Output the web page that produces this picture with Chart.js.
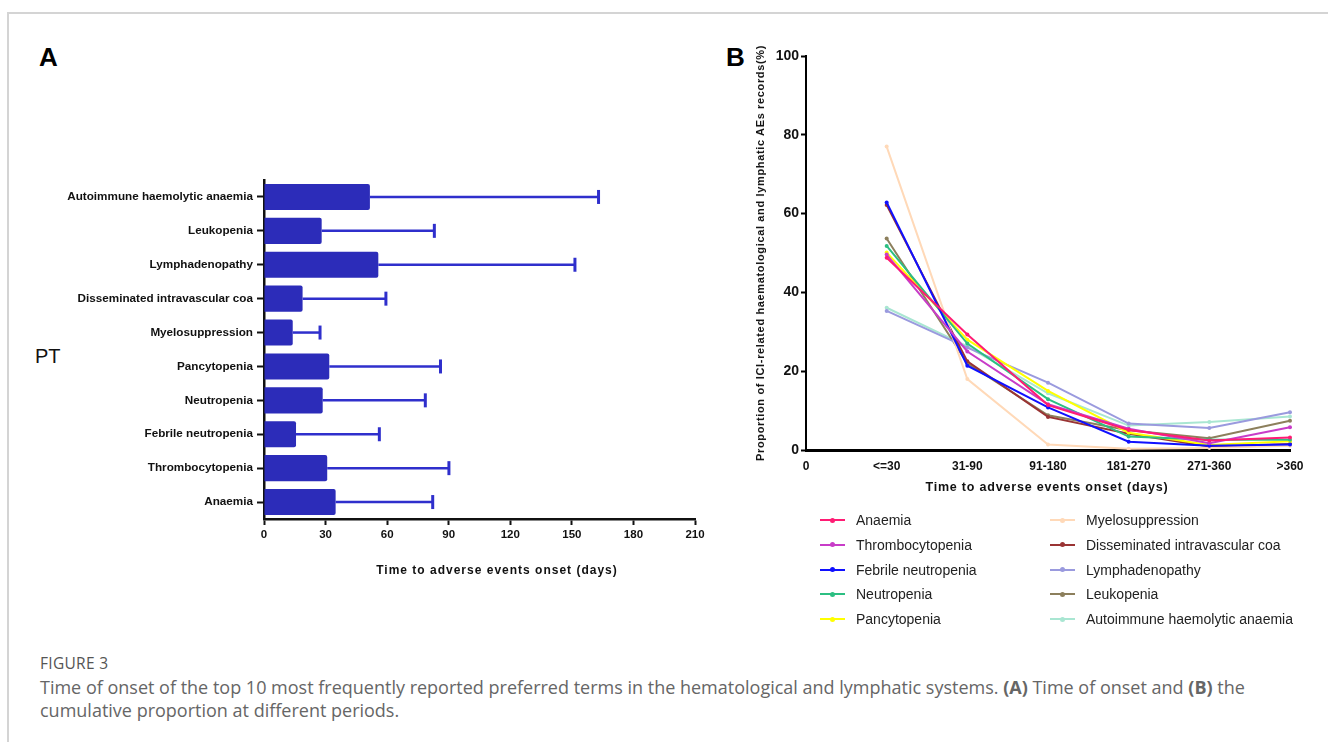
<!DOCTYPE html>
<html>
<head>
<meta charset="utf-8">
<script src="https://cdn.jsdelivr.net/npm/chart.js@4.4.1/dist/chart.umd.min.js"></script>
<style>
  body { margin: 0; background: #fff; }
  #page { position: relative; width: 1328px; height: 742px; overflow: hidden; font-family: "Liberation Sans", Arial, sans-serif; }
  #frame { position: absolute; left: 7px; top: 12px; width: 1330px; height: 740px; border-top: 2px solid #d4d4d4; border-left: 2px solid #d4d4d4; }
  canvas { position: absolute; }
  #chartA { left: 0; top: 150px; }
  #chartB { left: 700px; top: 30px; }
  .panel { position: absolute; font-weight: bold; font-size: 26px; color: #000; }
  #pt { position: absolute; left: 35px; top: 345px; font-size: 20px; color: #111; }
  .axtitle { position: absolute; font-weight: bold; color: #111; white-space: nowrap; transform: translate(-50%, -50%); }
  #legendB { position: absolute; left: 820px; top: 508px; }
  .item { position: absolute; height: 24px; line-height: 24px; font-size: 14px; color: #222; white-space: nowrap; }
  .swatch { position: absolute; left: 0; top: 11px; width: 25px; height: 2px; }
  .swatch i { position: absolute; left: 10px; top: -1.5px; width: 5px; height: 5px; border-radius: 50%; }
  .item span { position: absolute; left: 36px; top: 0; }
  #caption { position: absolute; left: 40px; top: 652px; font-family: "Open Sans", "Noto Sans", sans-serif; color: #666; }
  #caption .fig { font-size: 15.5px; color: #555; letter-spacing: 0.3px; line-height: 22px; }
  #caption .txt { font-size: 18px; line-height: 23px; margin-top: 2px; white-space: nowrap; }
</style>
</head>
<body>
<div id="page">
  <div id="frame"></div>
  <div class="panel" style="left:39px; top:42px;">A</div>
  <div class="panel" style="left:726px; top:42px;">B</div>
  <div id="pt">PT</div>
  <canvas id="chartA" width="720" height="440"></canvas>
  <canvas id="chartB" width="620" height="480"></canvas>
  <div class="axtitle" style="left:497px; top:570px; font-size:12px; letter-spacing:1px;">Time to adverse events onset (days)</div>
  <div class="axtitle" style="left:1047px; top:487px; font-size:12.5px; letter-spacing:0.8px;">Time to adverse events onset (days)</div>
  <div class="axtitle" style="left:760px; top:253px; font-size:11px; letter-spacing:0.65px; transform: translate(-50%, -50%) rotate(-90deg);">Proportion of ICI-related haematological and lymphatic AEs records(%)</div>
  <div id="legendB"></div>
  <div id="caption">
    <div class="fig">FIGURE 3</div>
    <div class="txt">Time of onset of the top 10 most frequently reported preferred terms in the hematological and lymphatic systems. <b>(A)</b> Time of onset and <b>(B)</b> the<br>cumulative proportion at different periods.</div>
  </div>
</div>
<script>
// ----- Panel A data -----
const ptLabels = [
  "Autoimmune haemolytic anaemia", "Leukopenia", "Lymphadenopathy",
  "Disseminated intravascular coa", "Myelosuppression", "Pancytopenia",
  "Neutropenia", "Febrile neutropenia", "Thrombocytopenia", "Anaemia"
];
const onsetDays = [51.6, 28.1, 55.7, 18.8, 14.0, 31.8, 28.6, 15.6, 30.8, 34.9];
const onsetUpper = [163, 83, 151.5, 59.4, 27.3, 86, 78.6, 56.2, 90.1, 82.2];

// ----- Panel B data -----
const periods = ["0", "<=30", "31-90", "91-180", "181-270", "271-360", ">360"];
const seriesNames = [
  "Anaemia", "Thrombocytopenia", "Febrile neutropenia", "Neutropenia", "Pancytopenia",
  "Myelosuppression", "Disseminated intravascular coa", "Lymphadenopathy", "Leukopenia",
  "Autoimmune haemolytic anaemia"
];
const seriesColors = [
  "#ff1c74", "#c83cc8", "#1010ff", "#2cbf82", "#ffff00",
  "#ffd9b8", "#9a3434", "#9a9ade", "#8c7f5c", "#a9e6d2"
];
const anaemia = [48.8, 29.3, 11.4, 5.1, 2.4, 3.2];
const thrombocytopenia = [49.6, 25.0, 11.6, 5.4, 1.7, 5.8];
const febrileNeutropenia = [62.8, 21.4, 10.8, 2.1, 1.1, 1.4];
const neutropenia = [51.8, 27.0, 12.9, 3.4, 2.6, 2.6];
const pancytopenia = [50.1, 28.0, 15.0, 4.4, 1.3, 2.2];
const myelosuppression = [77.0, 18.0, 1.4, 0.3, 0.5, 1.1];
const dic = [62.2, 22.5, 8.4, 4.1, 0.9, 1.5];
const lymphadenopathy = [35.3, 26.0, 17.1, 6.7, 5.6, 9.6];
const leukopenia = [53.7, 22.0, 8.8, 5.0, 3.0, 7.4];
const autoimmune = [36.1, 26.3, 14.4, 6.2, 7.1, 8.5];
const seriesValues = [
  anaemia, thrombocytopenia, febrileNeutropenia, neutropenia, pancytopenia,
  myelosuppression, dic, lymphadenopathy, leukopenia, autoimmune
];

const FONT = "'Liberation Sans', Arial, sans-serif";
Chart.defaults.font.family = FONT;
Chart.defaults.color = "#111";

// error bars to the right of each bar (upper only)
const errorBars = {
  id: "errorBars",
  afterDatasetsDraw(chart) {
    const meta = chart.getDatasetMeta(0);
    const xs = chart.scales.x;
    const c = chart.ctx;
    c.save();
    c.strokeStyle = "#2f2fcc";
    meta.data.forEach((bar, i) => {
      const xe = xs.getPixelForValue(onsetUpper[i]);
      c.lineWidth = 2.5;
      c.beginPath();
      c.moveTo(bar.x, bar.y);
      c.lineTo(xe, bar.y);
      c.stroke();
      c.lineWidth = 3;
      c.beginPath();
      c.moveTo(xe, bar.y - 7);
      c.lineTo(xe, bar.y + 7);
      c.stroke();
    });
    c.restore();
  }
};

new Chart(document.getElementById("chartA"), {
  type: "bar",
  data: {
    labels: ptLabels,
    datasets: [{
      data: onsetDays,
      backgroundColor: "#2c2cb9",
      borderRadius: 2,
      borderSkipped: "start",
      barPercentage: 0.77,
      categoryPercentage: 1
    }]
  },
  plugins: [errorBars],
  options: {
    indexAxis: "y",
    responsive: false,
    devicePixelRatio: 1,
    animation: false,
    layout: { padding: { top: 30, right: 25, left: 0, bottom: 0 } },
    plugins: { legend: { display: false }, tooltip: { enabled: false } },
    scales: {
      x: {
        type: "linear",
        min: 0,
        max: 210,
        ticks: { stepSize: 30, padding: 3, color: "#111", font: { size: 11.5, weight: "bold" } },
        grid: { drawOnChartArea: false, tickLength: 6, tickWidth: 2, tickColor: "#111" },
        border: { color: "#111", width: 2.5 },
        afterFit: s => { s.height = 71; }
      },
      y: {
        ticks: { padding: 4, color: "#111", font: { size: 11.7, weight: "bold" } },
        grid: { drawOnChartArea: false, tickLength: 7, tickWidth: 2, tickColor: "#111", offset: false },
        border: { color: "#111", width: 2.5 },
        afterFit: s => { s.width = 264; }
      }
    }
  }
});

new Chart(document.getElementById("chartB"), {
  type: "line",
  data: {
    labels: periods,
    datasets: seriesNames.map((name, i) => ({
      label: name,
      data: [null, ...seriesValues[i]],
      borderColor: seriesColors[i],
      backgroundColor: seriesColors[i],
      borderWidth: 2,
      pointRadius: 2,
      pointBorderWidth: 0,
      tension: 0
    }))
  },
  options: {
    responsive: false,
    devicePixelRatio: 1,
    animation: false,
    layout: { padding: { top: 26, right: 30, left: 0, bottom: 0 } },
    plugins: { legend: { display: false }, tooltip: { enabled: false } },
    scales: {
      x: {
        type: "category",
        offset: false,
        ticks: { padding: 9, color: "#111", font: { size: 12, weight: "bold" }, autoSkip: false, maxRotation: 0 },
        grid: { drawOnChartArea: false, drawTicks: false },
        border: { color: "#000", width: 3 },
        afterFit: s => { s.height = 60; }
      },
      y: {
        min: 0,
        max: 100,
        ticks: { stepSize: 20, padding: 2, color: "#111", font: { size: 14, weight: "bold" } },
        grid: { drawOnChartArea: false, tickLength: 5, tickWidth: 2, tickColor: "#000" },
        border: { color: "#000", width: 2 },
        afterFit: s => { s.width = 106; }
      }
    }
  }
});

// legend for panel B, two columns of five
const legendB = document.getElementById("legendB");
seriesNames.forEach((name, i) => {
  const col = Math.floor(i / 5);
  const row = i % 5;
  const item = document.createElement("div");
  item.className = "item";
  item.style.left = (col * 230) + "px";
  item.style.top = (row * 24.75) + "px";
  item.innerHTML = `<div class="swatch" style="background:${seriesColors[i]}"><i style="background:${seriesColors[i]}"></i></div><span>${name}</span>`;
  legendB.appendChild(item);
});
</script>
</body>
</html>
